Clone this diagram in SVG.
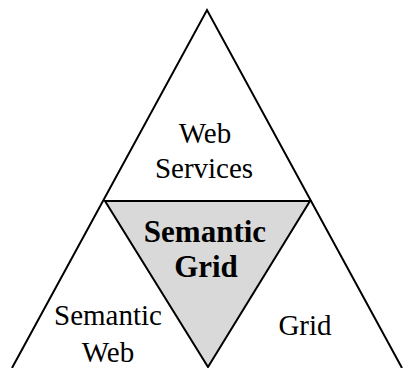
<svg xmlns="http://www.w3.org/2000/svg" width="404" height="368" viewBox="0 0 404 368">
<style>
.ln{fill:none;stroke:#000;stroke-width:2}
.t{font-family:"Liberation Serif","Times New Roman",serif;font-size:29px;fill:#000;text-anchor:middle}
.b{font-weight:bold;font-size:31px}
</style>
<rect width="404" height="368" fill="#fff"/>
<g id="connectors">
<polyline class="ln" points="12,368 207,10 402,368"/>
</g>
<g id="semantic-grid">
<polygon points="105,201 310,201 208,367" fill="#d9d9d9" stroke="#000" stroke-width="2" stroke-linejoin="miter"/>
<text class="t b" x="205" y="242">Semantic</text>
<text class="t b" x="206" y="277">Grid</text>
</g>
<g id="web-services">
<text class="t" x="205" y="143">Web</text>
<text class="t" x="204" y="178">Services</text>
</g>
<g id="semantic-web">
<text class="t" x="108" y="325">Semantic</text>
<text class="t" x="108" y="362">Web</text>
</g>
<g id="grid">
<text class="t" x="305" y="335">Grid</text>
</g>
</svg>
